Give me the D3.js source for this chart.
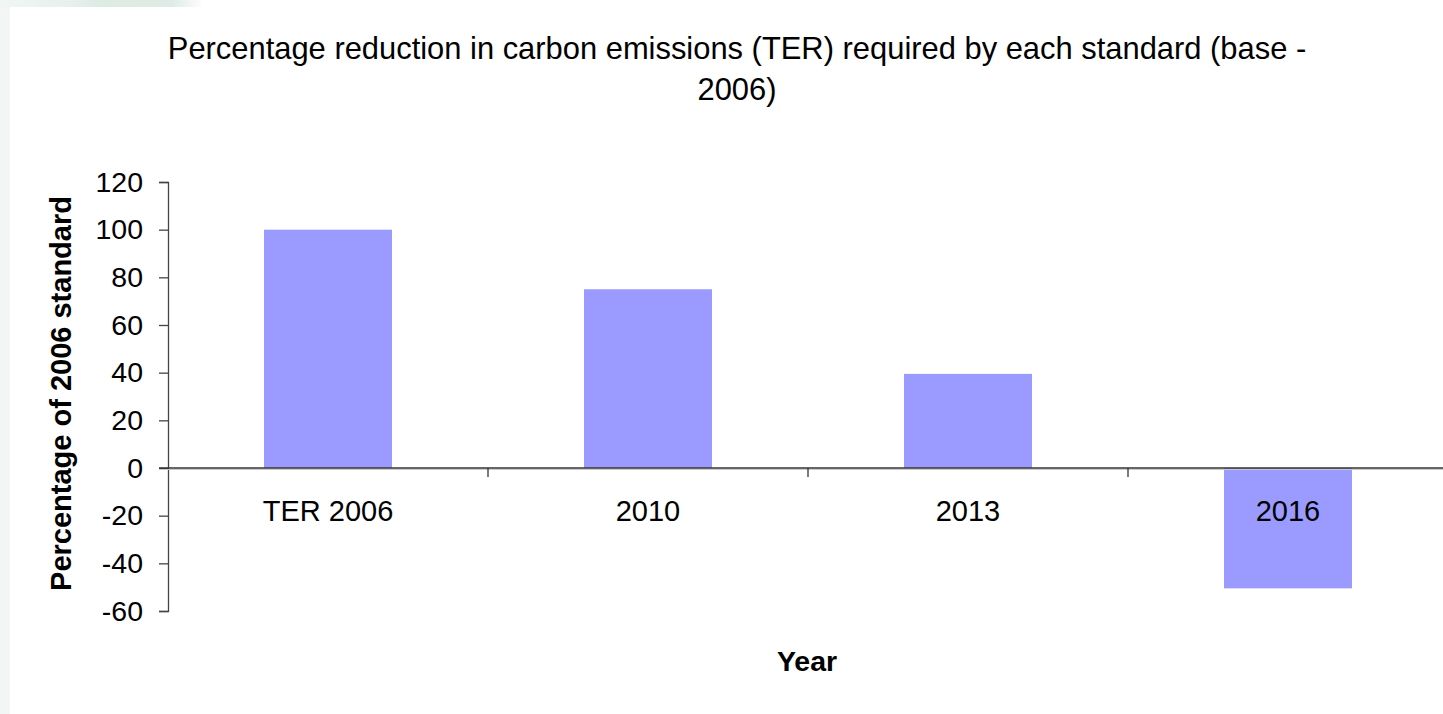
<!DOCTYPE html>
<html>
<head>
<meta charset="utf-8">
<script src="https://cdn.jsdelivr.net/npm/d3@7"></script>
<style>
  html, body { margin: 0; padding: 0; background: #ffffff; overflow: hidden; }
  svg { display: block; }
  text { font-family: "Liberation Sans", Arial, sans-serif; fill: #000; }
</style>
</head>
<body>
<svg id="chart" width="1443" height="714"></svg>
<script>
// ---- data ----
const categories = ["TER 2006", "2010", "2013", "2016"];
const values = [100, 75, 39.5, -50.5];
const yTicks = [-60, -40, -20, 0, 20, 40, 60, 80, 100, 120];
const titleLines = ["Percentage reduction in carbon emissions (TER) required by each standard (base -", "2006)"];
const yAxisTitle = "Percentage of 2006 standard";
const xAxisTitle = "Year";

const W = 1443, H = 714;
const svg = d3.select("#chart");

// page decoration (pale green frame at left / top)
const defs = svg.append("defs");
const grad = defs.append("linearGradient").attr("id", "topg").attr("x1", "0").attr("x2", "1").attr("y1", "0").attr("y2", "0");
grad.append("stop").attr("offset", "0").attr("stop-color", "#f1f6f4");
grad.append("stop").attr("offset", "0.3").attr("stop-color", "#e6f0ec");
grad.append("stop").attr("offset", "0.42").attr("stop-color", "#dcebe4");
grad.append("stop").attr("offset", "0.72").attr("stop-color", "#dfece6");
grad.append("stop").attr("offset", "0.85").attr("stop-color", "#ffffff");
grad.append("stop").attr("offset", "1").attr("stop-color", "#ffffff");
svg.append("rect").attr("x", 0).attr("y", 0).attr("width", W).attr("height", H).attr("fill", "#ffffff");
svg.append("rect").attr("x", 0).attr("y", 0).attr("width", 10).attr("height", H).attr("fill", "#f2f7f5");
svg.append("rect").attr("x", 0).attr("y", 0).attr("width", 240).attr("height", 7).attr("fill", "url(#topg)");

// ---- scales ----
const plotLeft = 168, plotRight = 1448, plotTop = 182, plotBottom = 611;
const x = d3.scaleBand().domain(categories).range([plotLeft, plotRight]).paddingInner(0.6).paddingOuter(0.3);
const xEdges = d3.scaleBand().domain(categories).range([plotLeft, plotRight]).padding(0);
const y = d3.scaleLinear().domain([-60, 120]).range([plotBottom, plotTop]);

// ---- bars ----
svg.append("g").selectAll("rect").data(values).join("rect")
  .attr("x", (d, i) => x(categories[i]))
  .attr("width", x.bandwidth())
  .attr("y", d => y(Math.max(0, d)))
  .attr("height", d => Math.abs(y(d) - y(0)))
  .attr("fill", "#9b9bff");

// ---- y axis ----
const yAxis = d3.axisLeft(y).tickValues(yTicks).tickSize(9).tickPadding(16).tickFormat(d => String(d));
const gy = svg.append("g").attr("transform", `translate(${plotLeft},0)`).call(yAxis);
gy.select(".domain").attr("stroke", "#444").attr("stroke-width", 1.3);
gy.selectAll(".tick line").attr("stroke", "#444").attr("stroke-width", 1.3);
gy.selectAll(".tick text").attr("font-size", 28.5).attr("font-family", "Liberation Sans, Arial, sans-serif").attr("fill", "#000");

// ---- zero line with category ticks ----
const zeroY = y(0);
svg.append("line").attr("x1", plotLeft - 9).attr("x2", W).attr("y1", zeroY + 1.5).attr("y2", zeroY + 1.5)
  .attr("stroke", "#c8c8c8").attr("stroke-width", 1);
svg.append("line").attr("x1", plotLeft - 9).attr("x2", W).attr("y1", zeroY).attr("y2", zeroY)
  .attr("stroke", "#333").attr("stroke-width", 1.5);
svg.append("g").selectAll("line").data(categories.slice(1)).join("line")
  .attr("x1", d => xEdges(d)).attr("x2", d => xEdges(d))
  .attr("y1", zeroY).attr("y2", zeroY + 9)
  .attr("stroke", "#333").attr("stroke-width", 1.3);

// category labels
svg.append("g").selectAll("text").data(categories).join("text")
  .attr("x", d => x(d) + x.bandwidth() / 2)
  .attr("y", zeroY + 53)
  .attr("text-anchor", "middle")
  .attr("font-size", 29)
  .text(d => d);

// ---- titles ----
svg.append("g").selectAll("text").data(titleLines).join("text")
  .attr("x", 737)
  .attr("y", (d, i) => 59 + i * 41)
  .attr("text-anchor", "middle")
  .attr("font-size", 30.9)
  .text(d => d);

svg.append("text")
  .attr("transform", `translate(71,${(195 + 592) / 2}) rotate(-90)`)
  .attr("text-anchor", "middle")
  .attr("font-size", 29)
  .attr("font-weight", "bold")
  .text(yAxisTitle);

svg.append("text")
  .attr("x", 807)
  .attr("y", 671)
  .attr("text-anchor", "middle")
  .attr("font-size", 28.5)
  .attr("font-weight", "bold")
  .text(xAxisTitle);
</script>
</body>
</html>
